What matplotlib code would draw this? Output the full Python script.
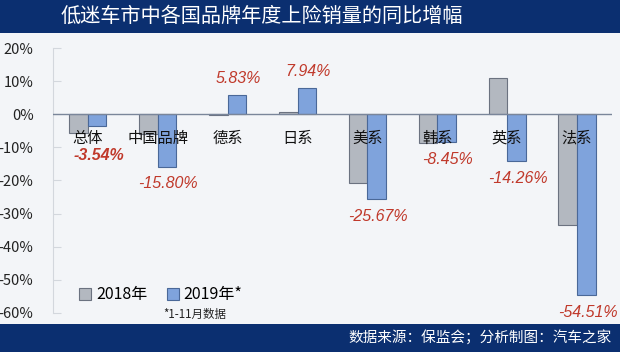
import numpy as np
import matplotlib.pyplot as plt
from matplotlib.patches import Rectangle

plt.rcParams['font.family'] = ['Noto Sans CJK SC', 'DejaVu Sans']

categories = ['总体', '中国品牌', '德系', '日系', '美系', '韩系', '英系', '法系']
y2018 = [-5.8, -6.0, -0.3, 0.7, -20.9, -8.7, 10.8, -33.4]
y2019 = [-3.54, -15.80, 5.83, 7.94, -25.67, -8.45, -14.26, -54.51]
yticks = [20, 10, 0, -10, -20, -30, -40, -50, -60]

navy = '#0b2f70'
bg = '#f3f5f8'
red = '#c0392b'

fig = plt.figure(figsize=(6.2, 3.52), dpi=100, facecolor=bg)
# title bar and footer bar
fig.patches.append(Rectangle((0, 0.906), 1, 0.094, transform=fig.transFigure,
                             facecolor=navy, edgecolor='none', zorder=0))
fig.patches.append(Rectangle((0, 0), 1, 0.08, transform=fig.transFigure,
                             facecolor=navy, edgecolor='none', zorder=0))
fig.text(0.423, 0.953, '低迷车市中各国品牌年度上险销量的同比增幅', color='white',
         fontsize=14.5, ha='center', va='center')
fig.text(0.987, 0.04, '数据来源：保监会；分析制图：汽车之家', color='white',
         fontsize=10.5, ha='right', va='center')

ax = fig.add_axes([0.0855, 0.111, 0.9015, 0.7526])
ax.set_facecolor(bg)
x = np.arange(len(categories))
w = 0.265
ax.bar(x - w/2, y2018, w, color='#b3b8c0', edgecolor='#6b7280', lw=0.8, label='2018年', zorder=2)
ax.bar(x + w/2, y2019, w, color='#7fa3dc', edgecolor='#4a6898', lw=0.8, label='2019年*', zorder=2)
ax.axhline(0, color='#7a869a', lw=1, zorder=3)
ax.set_xlim(-0.5, 7.5)
ax.set_ylim(-60, 20)

for s in ['top', 'right', 'bottom']:
    ax.spines[s].set_visible(False)
ax.spines['left'].set_color('#d3d7dd')
ax.set_xticks([])
ax.set_yticks(yticks)
ax.set_yticklabels([f'{t}%' for t in yticks], fontsize=10.5, color='#222222')
ax.tick_params(axis='y', direction='in', length=6, color='#d3d7dd', pad=14)

for i, c in enumerate(categories):
    ax.text(i, -7.3, c, ha='center', va='center', fontsize=11, color='#111111', zorder=4)

for i, v in enumerate(y2019):
    if v >= 0:
        off = 11.5
    elif i == 0:
        off = -21
    else:
        off = -12.5
    ax.annotate(f'{v:.2f}%', (i + w/2, v), xytext=(1, off), textcoords='offset points',
                ha='center', va='center', color=red, fontsize=11.5,
                family='Liberation Sans', style='italic',
                fontweight='bold' if i == 0 else 'normal', zorder=4)

leg = ax.legend(loc='lower left', bbox_to_anchor=(0.03, 0.0), ncol=2, frameon=False,
                fontsize=11.5, handlelength=0.75, handleheight=0.75, handletextpad=0.3,
                columnspacing=1.2, borderaxespad=0.2)
ax.text(0.253, -0.007, '*1-11月数据', transform=ax.transAxes, ha='center', va='center',
        fontsize=8.3, color='#222222')

fig.savefig('out.png', dpi=100, facecolor=bg)
